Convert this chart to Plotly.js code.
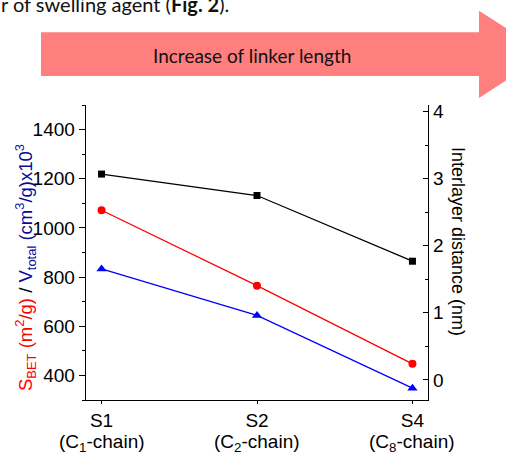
<!DOCTYPE html>
<html>
<head>
<meta charset="utf-8">
<script src="https://cdn.plot.ly/plotly-3.0.1.min.js"></script>
<style>html,body{margin:0;padding:0;background:#fff;}#chart{width:506px;height:455px;}</style>
</head>
<body>
<div id="chart"></div>
<script>
var samples = ['S1', 'S2', 'S4'];
var chains = ['(C<sub>1</sub>-chain)', '(C<sub>2</sub>-chain)', '(C<sub>8</sub>-chain)'];
var sBET = [1072, 765, 447];          // m2/g
var vTotal = [833, 644, 348];         // (cm3/g) x 10^3
var interlayer = [3.07, 2.75, 1.77];  // nm

var xpos = samples.map(function (s, i) { return i; });

var font = 'Liberation Sans';

var traces = [
  {x: xpos, y: interlayer, yaxis: 'y2', mode: 'lines+markers', name: 'Interlayer distance',
   line: {color: '#000000', width: 1.3}, marker: {symbol: 'square', size: 7, color: '#000000'}},
  {x: xpos, y: sBET, mode: 'lines+markers', name: 'S_BET',
   line: {color: '#ff0000', width: 1.3}, marker: {symbol: 'circle', size: 8, color: '#ff0000'}},
  {x: xpos, y: vTotal, mode: 'lines+markers', name: 'V_total',
   line: {color: '#0000ff', width: 1.3}, marker: {symbol: 'triangle-up', size: 9, color: '#0000ff'}}
];

var px2x = function (px) { return (px - 86) / 342; };
var px2y = function (py) { return (400 - py) / 295; };

var arrowPts = [[41, 32.3], [479, 32.3], [479, 10.7], [547, 54.2], [479, 98], [479, 76], [41, 76]];
var arrowPath = 'M ' + arrowPts.map(function (p) { return px2x(p[0]).toFixed(4) + ',' + px2y(p[1]).toFixed(4); }).join(' L ') + ' Z';

var annotations = [
  {xref: 'paper', yref: 'paper', x: px2x(252), y: px2y(55), xanchor: 'center', yanchor: 'middle',
   text: 'Increase of linker length', showarrow: false,
   font: {family: 'Lato, sans-serif', size: 19, color: '#111'}},
  {xref: 'paper', yref: 'paper', x: px2x(-1), y: px2y(4), xanchor: 'left', yanchor: 'middle',
   text: 'r of swelling agent (<b>Fig. 2</b>).', showarrow: false,
   font: {family: 'Lato, sans-serif', size: 20, color: '#111'}},
  {xref: 'paper', yref: 'paper', x: px2x(25), y: px2y(268), xanchor: 'center', yanchor: 'middle',
   textangle: -90, showarrow: false,
   text: '<span style="color:#ff0000">S<sub>BET</sub> (m<sup>2</sup>/g)</span> / <span style="color:#0a0a9a">V<sub>total</sub> (cm<sup>3</sup>/g)x10<sup>3</sup></span>',
   font: {family: font, size: 18.5, color: '#000'}},
  {xref: 'paper', yref: 'paper', x: px2x(458), y: px2y(241), xanchor: 'center', yanchor: 'middle',
   textangle: 90, showarrow: false, text: 'Interlayer distance (nm)',
   font: {family: font, size: 18, color: '#000'}}
];
chains.forEach(function (c, i) {
  annotations.push({xref: 'x', yref: 'paper', x: xpos[i], y: px2y(443), xanchor: 'center', yanchor: 'middle',
    text: c, showarrow: false, font: {family: font, size: 19, color: '#000'}});
});

var layout = {
  width: 506, height: 455,
  margin: {l: 86, r: 78, t: 105, b: 55},
  paper_bgcolor: '#ffffff', plot_bgcolor: '#ffffff',
  showlegend: false,
  font: {family: font, size: 19, color: '#000000'},
  xaxis: {
    range: [-0.1, 2.1], tickvals: xpos, ticktext: samples,
    showline: true, linecolor: '#000', linewidth: 1.3, ticks: 'outside', ticklen: 3, tickwidth: 1,
    tickcolor: '#000', showgrid: false, zeroline: false,
    tickfont: {family: font, size: 19, color: '#000'}
  },
  yaxis: {
    range: [300, 1500], tickvals: [400, 600, 800, 1000, 1200, 1400],
    showline: true, linecolor: '#000', linewidth: 1.3, ticks: 'outside', ticklen: 6, tickwidth: 1,
    tickcolor: '#000', showgrid: false, zeroline: false,
    minor: {tickvals: [300, 500, 700, 900, 1100, 1300, 1500], ticks: 'outside', ticklen: 3, tickcolor: '#000', showgrid: false},
    tickfont: {family: font, size: 19, color: '#000'}
  },
  yaxis2: {
    overlaying: 'y', side: 'right', range: [-0.3, 4.1], tickvals: [0, 1, 2, 3, 4],
    showline: true, linecolor: '#000', linewidth: 1.3, ticks: 'inside', ticklen: 5, tickwidth: 1,
    tickcolor: '#000', showgrid: false, zeroline: false,
    minor: {tickvals: [0.5, 1.5, 2.5, 3.5], ticks: 'inside', ticklen: 3, tickcolor: '#000', showgrid: false},
    tickfont: {family: font, size: 19, color: '#000'}
  },
  shapes: [
    {type: 'path', xref: 'paper', yref: 'paper', path: arrowPath,
     fillcolor: '#ff7f7f', line: {width: 0}, layer: 'above'}
  ],
  annotations: annotations
};

Plotly.newPlot('chart', traces, layout, {staticPlot: true, displayModeBar: false});
</script>
</body>
</html>
